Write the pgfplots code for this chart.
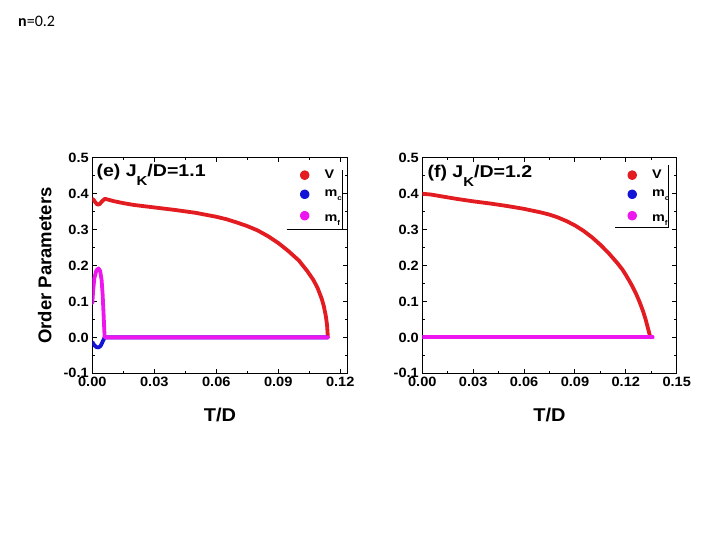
\documentclass[border=0pt]{standalone}
\usepackage{pgfplots}
\pgfplotsset{compat=1.18}
\usepackage{fontspec}
\setmainfont{Liberation Sans}
\newfontfamily\widefont{Liberation Sans}[FakeStretch=1.08]
\newfontfamily\annfont{Liberation Sans}[FakeStretch=1.15]
\newfontfamily\labfont{Liberation Sans}[FakeStretch=1.08]
\newfontfamily\calfont{Carlito}
\definecolor{cV}{RGB}{226,28,32}
\definecolor{cC}{RGB}{20,20,215}
\definecolor{cF}{RGB}{238,22,238}
\newcommand{\tickfont}{\widefont\bfseries\fontsize{13.5}{14}\selectfont}
\newcommand{\legfont}{\annfont\bfseries\fontsize{12.5}{13}\selectfont}
\newcommand{\subsc}[1]{\raisebox{-0.6ex}{\fontsize{7}{7}\selectfont #1}}
\pgfplotsset{
 opstyle/.style={
  scale only axis, height=215.4pt, ymin=-0.1, ymax=0.5,
  ytick={-0.1,0,0.1,0.2,0.3,0.4,0.5},
  minor x tick num=1, minor y tick num=1,
  tick align=inside,
  major tick length=4.5pt, minor tick length=2.5pt,
  axis line style={line width=0.9pt},
  tick style={line width=0.9pt, black},
  tick label style={font=\tickfont},
  /pgf/number format/assume math mode=true,
  xticklabel style={/pgf/number format/fixed, /pgf/number format/fixed zerofill, /pgf/number format/precision=2},
  yticklabel style={/pgf/number format/fixed, /pgf/number format/fixed zerofill, /pgf/number format/precision=1},
  xlabel={T/D},
  xlabel style={font=\labfont\bfseries\fontsize{18.5}{19}\selectfont, at={([yshift=-34.7pt]axis description cs:0.5,0)}, anchor=north, inner sep=0pt},
  legend cell align=left,
  legend image code/.code={\fill[##1] (0pt,0pt) circle (2.9pt);},
  legend style={draw=none, fill=none, at={(rel axis cs:1,1)}, anchor=north west, yshift=-10pt, font=\legfont, row sep=6pt, column sep=13pt, inner sep=0pt},
  every axis plot/.append style={line width=3.8pt, line join=round, line cap=round},
 }
}
\begin{document}
\begin{tikzpicture}
\fill[white] (0pt,0pt) rectangle (720pt,540pt);
\path[use as bounding box] (0pt,0pt) rectangle (720pt,540pt);
\node[anchor=base west, inner sep=0pt, font=\calfont\fontsize{16}{16}\selectfont] at (18pt,513.3pt) {\textbf{n}=0.2};

% ---------- (e) ----------
\begin{axis}[opstyle, at={(92.3pt,166.7pt)}, anchor=south west, width=255.4pt,
  xmin=0, xmax=0.1236, xtick={0,0.03,0.06,0.09,0.12},
  legend style={xshift=-48pt},
  ylabel={Order Parameters},
  ylabel style={font=\bfseries\fontsize{18.5}{19}\selectfont, at={([xshift=-40.6pt]axis description cs:0,0.5)}, anchor=south, inner sep=0pt}]
\addplot[cV] coordinates {
(0,0.386) (0.0008,0.382) (0.0015,0.376) (0.0025,0.370) (0.0035,0.371) (0.0045,0.378)
(0.0060,0.386) (0.0075,0.384) (0.010,0.380) (0.015,0.374) (0.020,0.369) (0.030,0.362)
(0.040,0.355) (0.050,0.347) (0.060,0.336) (0.065,0.329) (0.070,0.320) (0.075,0.310) (0.080,0.298)
(0.085,0.282) (0.090,0.263) (0.095,0.240) (0.100,0.214) (0.104,0.185) (0.107,0.160)
(0.109,0.138) (0.111,0.108) (0.112,0.088) (0.113,0.060) (0.1136,0.035) (0.114,0.000)};
\addlegendentry{V}
\addplot[cC] coordinates {
(0,-0.013) (0.001,-0.022) (0.002,-0.027) (0.003,-0.028) (0.004,-0.024) (0.005,-0.012)
(0.0058,-0.002) (0.006,0.000) (0.114,0.000)};
\addlegendentry{m\subsc{c}}
\addplot[cF] coordinates {
(0,0.095) (0.0004,0.130) (0.001,0.165) (0.002,0.187) (0.003,0.192) (0.0038,0.185)
(0.0045,0.160) (0.005,0.120) (0.0055,0.060) (0.0058,0.020) (0.006,0.000) (0.1142,0.000)};
\addlegendentry{\rule{0pt}{13pt}m\subsc{f}}
\draw[line width=0.8pt] ([xshift=-61pt,yshift=-72pt]rel axis cs:1,1) -- ([xshift=-5.7pt,yshift=-72pt]rel axis cs:1,1) -- ([xshift=-5.7pt,yshift=-12.1pt]rel axis cs:1,1);
\node[anchor=base west, inner sep=0pt, font=\annfont\bfseries\fontsize{17}{17}\selectfont] at ([xshift=4pt,yshift=-18.6pt]rel axis cs:0,1) {(e) J\raisebox{-0.55em}{\fontsize{13}{13}\selectfont K}/D=1.1};
\end{axis}

% ---------- (f) ----------
\begin{axis}[opstyle, at={(422.3pt,166.7pt)}, anchor=south west, width=254.4pt,
  xmin=0, xmax=0.15, xtick={0,0.03,0.06,0.09,0.12,0.15},
  legend style={xshift=-49.5pt}]
\addplot[cV] coordinates {
(0,0.400) (0.005,0.398) (0.010,0.394) (0.020,0.386) (0.030,0.379) (0.040,0.373)
(0.050,0.366) (0.060,0.358) (0.070,0.348) (0.075,0.342) (0.080,0.334) (0.085,0.324)
(0.090,0.312) (0.095,0.297) (0.100,0.279) (0.105,0.258) (0.110,0.234) (0.115,0.207)
(0.118,0.189) (0.120,0.174) (0.122,0.158) (0.124,0.141) (0.126,0.122) (0.128,0.100)
(0.130,0.075) (0.1315,0.053) (0.1328,0.030) (0.1338,0.012) (0.1345,0.000)};
\addlegendentry{V}
\addplot[cC] coordinates {(0,0) (0.1355,0)};
\addlegendentry{m\subsc{c}}
\addplot[cF] coordinates {(0,0) (0.1358,0)};
\addlegendentry{\rule{0pt}{13pt}m\subsc{f}}
\draw[line width=0.8pt] ([xshift=-61.7pt,yshift=-69.5pt]rel axis cs:1,1) -- ([xshift=-8.4pt,yshift=-69.5pt]rel axis cs:1,1) -- ([xshift=-8.4pt,yshift=-7.1pt]rel axis cs:1,1);
\node[anchor=base west, inner sep=0pt, font=\annfont\bfseries\fontsize{17}{17}\selectfont] at ([xshift=5pt,yshift=-19.4pt]rel axis cs:0,1) {(f) J\raisebox{-0.55em}{\fontsize{13}{13}\selectfont K}/D=1.2};
\end{axis}
\end{tikzpicture}
\end{document}
